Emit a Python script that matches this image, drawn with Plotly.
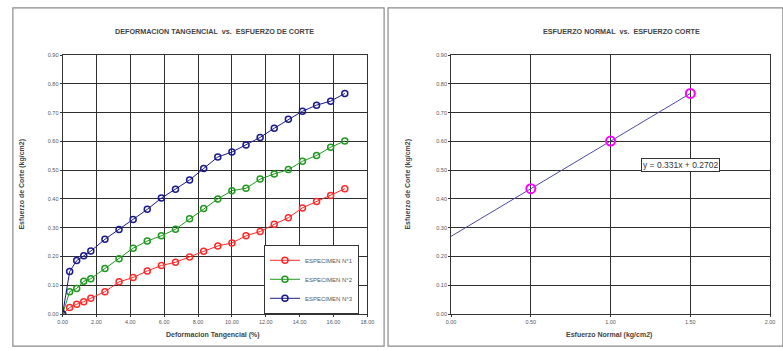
import numpy as np
import plotly.graph_objects as go

W, H = 783, 351

# ---------------- data ----------------
deformacion = [0.0, 0.417, 0.833, 1.25, 1.667, 2.5, 3.333, 4.167, 5.0, 5.833, 6.667,
               7.5, 8.333, 9.167, 10.0, 10.833, 11.667, 12.5, 13.333, 14.167, 15.0,
               15.833, 16.667]
esp1 = [0.0, 0.023, 0.034, 0.043, 0.055, 0.078, 0.112, 0.127, 0.150, 0.169, 0.180,
        0.198, 0.218, 0.237, 0.247, 0.272, 0.287, 0.312, 0.335, 0.369, 0.391,
        0.412, 0.4357]
esp2 = [0.0, 0.078, 0.089, 0.114, 0.123, 0.158, 0.192, 0.229, 0.254, 0.272, 0.295,
        0.331, 0.367, 0.400, 0.429, 0.437, 0.469, 0.487, 0.502, 0.531, 0.551,
        0.580, 0.6012]
esp3 = [0.0, 0.148, 0.186, 0.203, 0.219, 0.260, 0.294, 0.329, 0.364, 0.403, 0.434,
        0.466, 0.506, 0.546, 0.563, 0.588, 0.614, 0.646, 0.677, 0.705, 0.726,
        0.740, 0.7667]
series_names = ["ESPECIMEN N°1", "ESPECIMEN N°2", "ESPECIMEN N°3"]
series_colors = ["#ff2a2a", "#1f9a1f", "#1a1a8c"]

esfuerzo_normal = [0.5, 1.0, 1.5]
esfuerzo_corte = [0.4357, 0.6012, 0.7667]

x1_ticks = [0, 2, 4, 6, 8, 10, 12, 14, 16, 18]
x2_ticks = [0.0, 0.5, 1.0, 1.5, 2.0]
y_ticks = [0.0, 0.1, 0.2, 0.3, 0.4, 0.5, 0.6, 0.7, 0.8, 0.9]

title1 = "DEFORMACION TANGENCIAL  vs.  ESFUERZO DE CORTE"
title2 = "ESFUERZO NORMAL  vs.  ESFUERZO CORTE"
xlabel1 = "Deformacion Tangencial (%)"
xlabel2 = "Esfuerzo Normal (kg/cm2)"
ylabel = "Esfuerzo de Corte (kg/cm2)"

# ---------------- figure ----------------
FONT = "Liberation Sans, Arial, sans-serif"
fig = go.Figure()

for ys, name, col in zip([esp1, esp2, esp3], series_names, series_colors):
    fig.add_trace(go.Scatter(
        x=deformacion, y=ys, name=name, mode="lines+markers",
        line=dict(color=col, width=1),
        marker=dict(symbol="circle-open", size=6, color=col, line=dict(width=1.5, color=col)),
        xaxis="x", yaxis="y"))

# regression line
m, b = np.polyfit(esfuerzo_normal, esfuerzo_corte, 1)
xl = np.array([0.0, max(esfuerzo_normal)])
fig.add_trace(go.Scatter(x=xl, y=m * xl + b, mode="lines", showlegend=False,
                         line=dict(color="#4a4aa8", width=1), xaxis="x2", yaxis="y2"))
fig.add_trace(go.Scatter(x=esfuerzo_normal, y=esfuerzo_corte, mode="markers", showlegend=False,
                         marker=dict(symbol="circle-open", size=9, color="#ff00ff",
                                     line=dict(width=2, color="#ff00ff")),
                         xaxis="x2", yaxis="y2"))

def px_x(p):
    return p / W

def px_y(p):
    return 1 - p / H

ydom = [px_y(316.5), px_y(53)]
axis_common = dict(showgrid=True, gridcolor="#2e2e2e", gridwidth=1.3, showline=True,
                   linecolor="#333333", linewidth=1, mirror=True, zeroline=False,
                   ticks="outside", ticklen=2, tickcolor="#333333",
                   tickfont=dict(family=FONT, size=5.5, color="#555555"), fixedrange=True)

fig.update_layout(
    width=W, height=H, margin=dict(l=0, r=0, t=0, b=0),
    paper_bgcolor="white", plot_bgcolor="white",
    showlegend=True,
    legend=dict(x=px_x(263), y=px_y(246), xanchor="left", yanchor="top",
                bgcolor="white", bordercolor="#333333", borderwidth=1,
                font=dict(family=FONT, size=6, color="#555555"),
                itemwidth=30, tracegroupgap=0),
    xaxis=dict(domain=[px_x(58.5), px_x(368)], range=[0, 18], tickvals=x1_ticks,
               ticktext=[f"{v:.2f}" for v in x1_ticks], anchor="y", **axis_common),
    yaxis=dict(domain=ydom, range=[0, 0.9], tickvals=y_ticks,
               ticktext=[f"{v:.2f}" for v in y_ticks], anchor="x", **axis_common),
    xaxis2=dict(domain=[px_x(453), px_x(777)], range=[0, 2.0], tickvals=x2_ticks,
                ticktext=[f"{v:.2f}" for v in x2_ticks], anchor="y2", **axis_common),
    yaxis2=dict(domain=ydom, range=[0, 0.9], tickvals=y_ticks,
                ticktext=[f"{v:.2f}" for v in y_ticks], anchor="x2", **axis_common),
)

# chart borders
for x0, x1 in [(8, 385), (389, 790)]:
    fig.add_shape(type="rect", xref="paper", yref="paper",
                  x0=px_x(x0), x1=px_x(x1), y0=px_y(349), y1=px_y(5),
                  line=dict(color="#8a8a8a", width=1.2), fillcolor="rgba(0,0,0,0)", layer="below")

def ann(text, x, y, size, bold=False, angle=0, color="#444444"):
    fig.add_annotation(text=f"<b>{text}</b>" if bold else text, xref="paper", yref="paper",
                       x=px_x(x), y=px_y(y), showarrow=False, textangle=angle,
                       xanchor="center", yanchor="middle",
                       font=dict(family=FONT, size=size, color=color))

ann(title1, 213, 29, 7.2, bold=True)
ann(title2, 626, 29, 7.2, bold=True)
ann(xlabel1, 211, 338, 7, bold=True)
ann(xlabel2, 613, 338, 7, bold=True)
ann(ylabel, 17, 184, 7, bold=True, angle=-90)
ann(ylabel, 409, 184, 7, bold=True, angle=-90)

fig.add_annotation(text="y = 0.331x + 0.2702", xref="paper", yref="paper",
                   x=px_x(686), y=px_y(164.5), showarrow=False,
                   xanchor="center", yanchor="middle", bgcolor="white",
                   bordercolor="#333333", borderwidth=1, borderpad=1,
                   font=dict(family=FONT, size=8.5, color="#333333"))

fig.write_html("out.html", config={"displayModeBar": False},
               post_script="document.body.style.margin='0';document.body.style.overflow='hidden';")
